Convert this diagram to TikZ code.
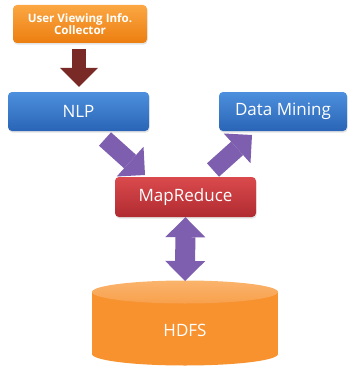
\documentclass[tikz,border=0pt]{standalone}
\usepackage{fontspec}
\setmainfont{Open Sans}
\usetikzlibrary{arrows.meta,shadows,calc}
\definecolor{orTop}{HTML}{FBA743}
\definecolor{orBot}{HTML}{EC7E10}
\definecolor{blTop}{HTML}{4D90DD}
\definecolor{blBot}{HTML}{2A64B6}
\definecolor{rdTop}{HTML}{DA4A4D}
\definecolor{rdBot}{HTML}{B02B30}
\definecolor{darkred}{HTML}{7A2A26}
\definecolor{purp}{HTML}{7E5EAE}
\definecolor{cylBody}{HTML}{F7922F}
\definecolor{cylTopA}{HTML}{FAB46C}
\definecolor{cylTopB}{HTML}{F8A04C}
\begin{document}
\begin{tikzpicture}[x=1pt,y=-1pt,
  box/.style={rounded corners=4pt, text=white, inner sep=0pt,
    drop shadow={opacity=0.22,shadow xshift=0.6pt,shadow yshift=-1.6pt},
    font=\fontsize{17}{20}\selectfont},
  bluebox/.style={box, top color=blTop, bottom color=blBot},
  redbox/.style={box, top color=rdTop, bottom color=rdBot},
  orangebox/.style={box, top color=orTop, bottom color=orBot,
    font=\fontsize{11.6}{13.5}\bfseries\selectfont, align=center},
  darkarrow/.style={draw=darkred, line width=14pt,
    -{Triangle[width=38pt,length=19pt,line width=0pt,fill=darkred]}},
  purparrow/.style={draw=purp, line width=18pt,
    -{Triangle[width=40pt,length=20pt,line width=0pt,fill=purp]}},
  dblarrow/.style={draw=purp, line width=20pt,
    {Triangle[width=40pt,length=20pt,line width=0pt,fill=purp]}-{Triangle[width=40pt,length=20pt,line width=0pt,fill=purp]}}
]
\useasboundingbox (0,0) rectangle (352,369);

% boxes
\node[orangebox, minimum width=134pt, minimum height=38pt] (coll) at (80,24)
  {User Viewing Info.\\[-1pt]Collector};
\node[bluebox, minimum width=141pt, minimum height=39pt] (nlp) at (78.5,111.5) {NLP};
\node[bluebox, minimum width=128pt, minimum height=39pt] (dm) at (283,111.5) {Data Mining};
\node[redbox, minimum width=141pt, minimum height=40pt] (mr) at (185.5,197) {MapReduce};

% cylinder HDFS
\fill[cylBody] (92,292) rectangle (278,354);
\fill[cylBody] (185,354) ellipse [x radius=93, y radius=11.5];
\shade[top color=cylTopA, bottom color=cylTopB] (185,292) ellipse [x radius=93, y radius=11.5];
\coordinate (hdfstop) at (185,281);
\node[text=white, font=\fontsize{17}{20}\selectfont] (hdfs) at (185,330) {HDFS};

% connectors
\draw[darkarrow, shorten <=6pt, shorten >=5pt] (coll.south -| 79,0) -- (79,0 |- nlp.north);
\coordinate (a1s) at (105,139);
\coordinate (a1e) at (145,175);
\draw[purparrow] (a1s) -- (a1e);
\coordinate (a2s) at (213,170);
\coordinate (a2e) at (252,135);
\draw[purparrow] (a2s) -- (a2e);
\draw[dblarrow] (mr.south) -- (hdfstop);
\end{tikzpicture}
\end{document}
